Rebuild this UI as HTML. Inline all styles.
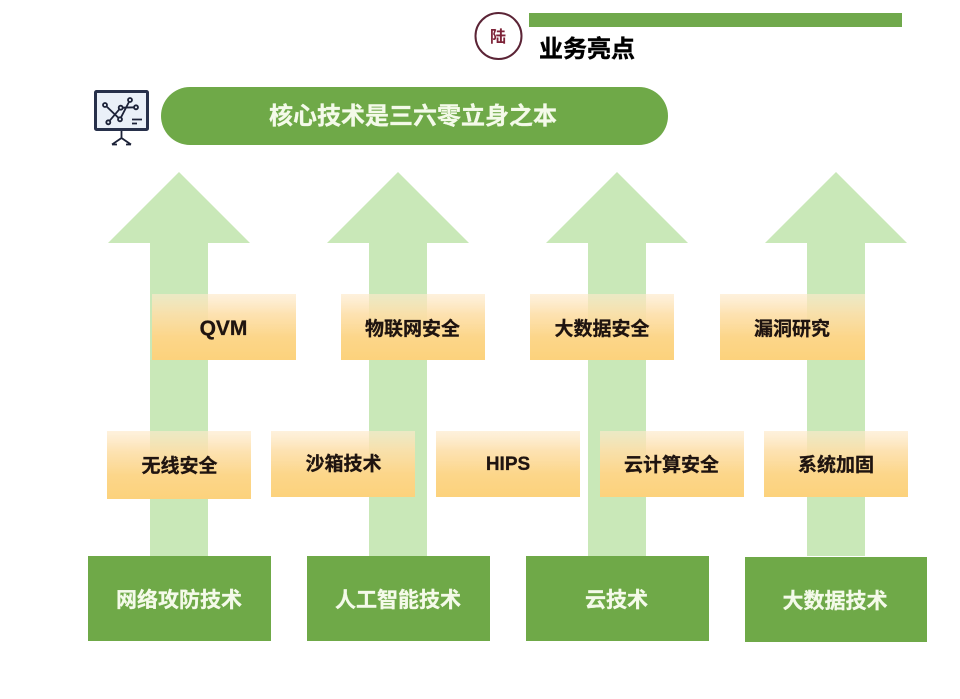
<!DOCTYPE html>
<html lang="zh">
<head>
<meta charset="utf-8">
<style>
html,body{margin:0;padding:0;background:#fff;width:960px;height:699px;overflow:hidden}
svg{display:block;filter:blur(.35px)}
text{font-family:"Liberation Sans","Noto Sans CJK SC",sans-serif;font-weight:700;text-anchor:middle}
.w{fill:#f4fae9;font-size:21px;stroke:#f4fae9;stroke-width:.3px}
.o{fill:#1f1410;font-size:19px;stroke:#1f1410;stroke-width:.3px}
</style>
</head>
<body>
<svg width="960" height="699" viewBox="0 0 960 699" xmlns="http://www.w3.org/2000/svg">
<defs>
<linearGradient id="g" x1="0" y1="0" x2="0" y2="1">
<stop offset="0" stop-color="#fdeacb" stop-opacity=".65"/>
<stop offset=".3" stop-color="#fddfa9" stop-opacity=".9"/>
<stop offset=".65" stop-color="#fcd68a"/>
<stop offset="1" stop-color="#fcd27c"/>
</linearGradient>
<path id="ar" d="M0 172L71 243H29V556H-29V243H-71Z" fill="#c9e8b8"/>
</defs>

<use href="#ar" x="179"/>
<use href="#ar" x="398"/>
<use href="#ar" x="617"/>
<use href="#ar" x="836"/>

<rect x="529" y="13" width="373" height="14" fill="#70a94c"/>
<circle cx="498.500" cy="36" r="23" fill="#fff" stroke="#5b2436" stroke-width="2"/>
<text x="498" y="42" font-size="16" style="fill:#7d2338;font-weight:700">陆</text>
<text x="587" y="57" font-size="24" style="fill:#000;stroke:#000;stroke-width:.4px">业务亮点</text>

<rect x="161" y="87" width="507" height="58" rx="29" fill="#6fa948"/>
<text x="413" y="124" font-size="24" style="fill:#f4fae9;stroke:#f4fae9;stroke-width:.3px">核心技术是三六零立身之本</text>

<g>
<rect x="95.500" y="91.500" width="52" height="38" rx="1" fill="#eaf0f8" stroke="#27304a" stroke-width="3"/>
<g fill="none" stroke="#1c2238" stroke-width="1.800">
<path d="M105 105L120 119.300M108.300 122.300L120.700 107.700M120 119.300L130 100M120.700 107.700L136 107.300"/>
<circle cx="105" cy="105" r="2" fill="#eaf0f8"/>
<circle cx="108.300" cy="122.300" r="2" fill="#eaf0f8"/>
<circle cx="120.700" cy="107.700" r="2" fill="#eaf0f8"/>
<circle cx="120" cy="119.300" r="2" fill="#eaf0f8"/>
<circle cx="130" cy="100" r="2" fill="#eaf0f8"/>
<circle cx="136" cy="107.300" r="2" fill="#eaf0f8"/>
</g>
<path d="M132 119.500H142M132 123.500H137" stroke="#1c2238" stroke-width="1.800" fill="none"/>
<path d="M121.500 131V138L112 144.500M121.500 138L131 144.500M112 144.500H117M126 144.500H131" stroke="#1c2238" stroke-width="1.800" fill="none"/>
</g>

<rect x="152" y="294" width="144" height="66" fill="url(#g)"/>
<rect x="341" y="294" width="144" height="66" fill="url(#g)"/>
<rect x="530" y="294" width="144" height="66" fill="url(#g)"/>
<rect x="720" y="294" width="145" height="66" fill="url(#g)"/>
<rect x="107" y="431" width="144" height="68" fill="url(#g)"/>
<rect x="271" y="431" width="144" height="66" fill="url(#g)"/>
<rect x="436" y="431" width="144" height="66" fill="url(#g)"/>
<rect x="600" y="431" width="144" height="66" fill="url(#g)"/>
<rect x="764" y="431" width="144" height="66" fill="url(#g)"/>

<text class="o" x="223.500" y="335" style="font-size:21px">QVM</text>
<text class="o" x="412.500" y="335">物联网安全</text>
<text class="o" x="602" y="335">大数据安全</text>
<text class="o" x="792" y="335">漏洞研究</text>
<text class="o" x="179.500" y="472">无线安全</text>
<text class="o" x="343.500" y="470">沙箱技术</text>
<text class="o" x="508" y="470">HIPS</text>
<text class="o" x="671.500" y="471">云计算安全</text>
<text class="o" x="836" y="471">系统加固</text>

<rect x="88" y="556" width="183" height="85" fill="#6fa948"/>
<rect x="307" y="556" width="183" height="85" fill="#6fa948"/>
<rect x="526" y="556" width="183" height="85" fill="#6fa948"/>
<rect x="745" y="557" width="182" height="85" fill="#6fa948"/>

<text class="w" x="179" y="607">网络攻防技术</text>
<text class="w" x="398" y="607">人工智能技术</text>
<text class="w" x="616.500" y="607">云技术</text>
<text class="w" x="835" y="608">大数据技术</text>
</svg>
</body>
</html>
